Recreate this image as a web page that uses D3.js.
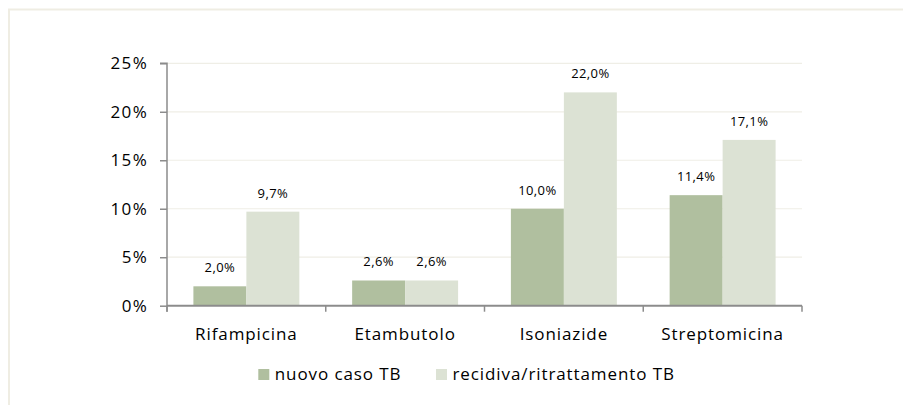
<!DOCTYPE html>
<html>
<head>
<meta charset="utf-8">
<script src="https://cdn.jsdelivr.net/npm/d3@7"></script>
<style>
html,body{margin:0;padding:0;background:#fff;}
svg{display:block;}
text{font-family:"Open Sans",sans-serif;fill:#000;}
</style>
</head>
<body>
<svg id="c" width="903" height="405"></svg>
<script>
const categories = ["Rifampicina", "Etambutolo", "Isoniazide", "Streptomicina"];
const seriesNames = ["nuovo caso TB", "recidiva/ritrattamento TB"];
const nuovoCaso = [2.0, 2.6, 10.0, 11.4];
const recidiva = [9.7, 2.6, 22.0, 17.1];
const yTicks = [0, 5, 10, 15, 20, 25];
const colors = ["#b0bf9f", "#dce2d4"];

(function () {
const svg = d3.select("#c");
const pL = 167, pR = 802, pT = 63.3, pB = 305.7;

// outer frame
svg.append("rect").attr("x", 9).attr("y", 9.5).attr("width", 920).attr("height", 420)
  .attr("fill", "none").attr("stroke", "#efede3").attr("stroke-width", 2);

const y = d3.scaleLinear().domain([0, 25]).range([pB, pT]);
const x0 = d3.scaleBand().domain(categories).range([pL, pR]).paddingInner(0).paddingOuter(0);
const x1 = d3.scaleBand().domain([0, 1]).range([26.4, x0.bandwidth() - 26.4]).padding(0);

// grid
svg.append("g").selectAll("line").data(yTicks.filter(d => d > 0)).join("line")
  .attr("x1", pL).attr("x2", pR)
  .attr("y1", d => y(d)).attr("y2", d => y(d))
  .attr("stroke", "#efeee6").attr("stroke-width", 1.2);

const series = [nuovoCaso, recidiva];
const fmt = v => v.toFixed(1).replace(".", ",") + "%";

series.forEach((vals, s) => {
  const g = svg.append("g");
  g.selectAll("rect").data(categories).join("rect")
    .attr("x", c => x0(c) + x1(s))
    .attr("width", x1.bandwidth())
    .attr("y", (c, i) => y(vals[i]))
    .attr("height", (c, i) => pB - y(vals[i]))
    .attr("fill", colors[s]);
  g.selectAll("text").data(categories).join("text")
    .attr("x", c => x0(c) + x1(s) + x1.bandwidth() / 2)
    .attr("y", (c, i) => y(vals[i]) - 14)
    .attr("text-anchor", "middle")
    .style("font-size", "13px")
    .style("letter-spacing", "0.4px")
    .text((c, i) => fmt(vals[i]));
});

// y axis
const yAxis = d3.axisLeft(y).tickValues(yTicks).tickSize(7).tickPadding(12).tickFormat(d => d + "%");
const ya = svg.append("g").attr("transform", `translate(${pL},0)`).call(yAxis);
ya.select(".domain").attr("stroke", "#8c8c8c").attr("stroke-width", 1.5).attr("d", `M-7,${pT}H0V${pB + 6}`);
ya.selectAll(".tick line").attr("stroke", "#8c8c8c").attr("stroke-width", 1.5);
ya.selectAll(".tick text").style("font-size", "17px").style("letter-spacing", "1.3px")
  .style("font-family", "'Open Sans', sans-serif").attr("fill", "#000");

// x axis
const xa = svg.append("g").attr("transform", `translate(0,${pB})`);
xa.append("line").attr("x1", pL).attr("x2", pR).attr("y1", 0).attr("y2", 0)
  .attr("stroke", "#8c8c8c").attr("stroke-width", 2);
const bounds = categories.map(c => x0(c)).concat([pR]);
xa.selectAll("line.t").data(bounds).join("line").attr("class", "t")
  .attr("x1", d => d).attr("x2", d => d).attr("y1", 0).attr("y2", 6)
  .attr("stroke", "#8c8c8c").attr("stroke-width", 1.5);
xa.selectAll("text").data(categories).join("text")
  .attr("x", c => x0(c) + x0.bandwidth() / 2)
  .attr("y", 34.5)
  .attr("text-anchor", "middle")
  .style("font-size", "17px")
  .style("letter-spacing", "0.9px")
  .text(c => c);

// legend
const legendX = [258.3, 436];
const lg = svg.append("g");
seriesNames.forEach((n, i) => {
  lg.append("rect").attr("x", legendX[i]).attr("y", 369).attr("width", 11).attr("height", 11).attr("fill", colors[i]);
  lg.append("text").attr("x", legendX[i] + 16.5).attr("y", 380).style("font-size", "17px")
    .style("letter-spacing", "0.9px").text(n);
});
})();
</script>
</body>
</html>
